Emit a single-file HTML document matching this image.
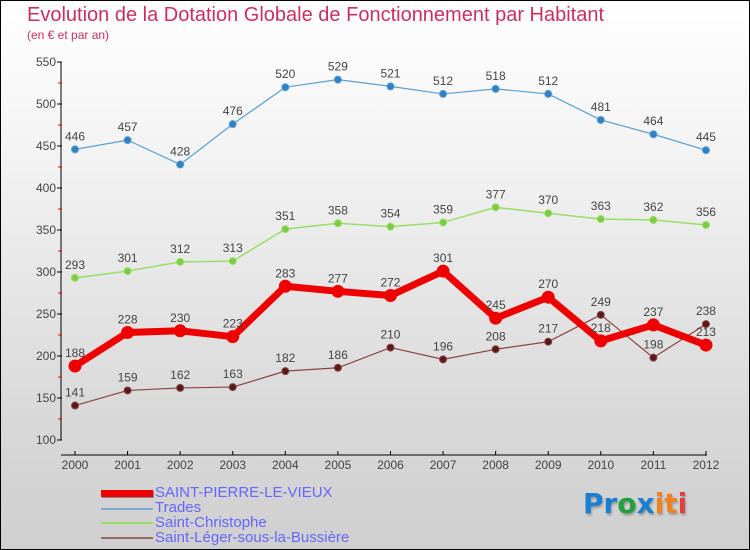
<!DOCTYPE html>
<html><head><meta charset="utf-8"><style>
body{margin:0}
#wrap{position:relative;width:748px;height:548px;border:1px solid #000;background:linear-gradient(#ffffff 0%,#f2f2f2 30%,#d9d9d9 75%,#cfcfcf 100%);font-family:"Liberation Sans",sans-serif;overflow:hidden}
.t{position:absolute;color:#c8315e}
.lg{position:absolute;left:154px;font-size:15px;color:#6666ff;line-height:16px}
.sw{position:absolute;left:100px;width:52px}
</style></head><body>
<div id="wrap">
<div class="t" style="left:26px;top:3px;font-size:20px">Evolution de la Dotation Globale de Fonctionnement par Habitant</div>
<div class="t" style="left:26px;top:27px;font-size:12px">(en € et par an)</div>
<svg id="svg" width="748" height="548" style="position:absolute;left:0;top:0"></svg>
<div class="sw" style="top:489px;height:7px;background:#e00;box-shadow:1px 1px 0 #888"></div>
<div class="lg" style="top:484px">SAINT-PIERRE-LE-VIEUX</div>
<div class="sw" style="top:507px;height:2px;background:#7aaed6"></div>
<div class="lg" style="top:499px">Trades</div>
<div class="sw" style="top:521px;height:2px;background:#99dd66"></div>
<div class="lg" style="top:514px">Saint-Christophe</div>
<div class="sw" style="top:536px;height:2px;background:#996666"></div>
<div class="lg" style="top:529px">Saint-Léger-sous-la-Bussière</div>
<div style="position:absolute;left:582px;top:486px;font-size:28px;font-weight:bold;font-family:'DejaVu Sans',sans-serif;text-shadow:1px 2px 2px #999"><span style="color:#1a7fd0">Pr</span><span style="color:#22a040">o</span><span style="color:#1a7fd0">x</span><span style="color:#f08020">it</span><span style="color:#e04040">i</span></div>
</div>
<script>
const years=[2000,2001,2002,2003,2004,2005,2006,2007,2008,2009,2010,2011,2012];
const spv=[188,228,230,223,283,277,272,301,245,270,218,237,213];
const trades=[446,457,428,476,520,529,521,512,518,512,481,464,445];
const stc=[293,301,312,313,351,358,354,359,377,370,363,362,356];
const stl=[141,159,162,163,182,186,210,196,208,217,249,198,238];
const yTicks=[100,150,200,250,300,350,400,450,500,550];
const svg=document.getElementById('svg');const NS='http://www.w3.org/2000/svg';
const X=i=>74+i*52.58;const Y=v=>439-(v-100)*(378/450);
function mk(t,a,p){const e=document.createElementNS(NS,t);for(const k in a)e.setAttribute(k,a[k]);(p||svg).appendChild(e);return e;}
let ax=mk('line',{x1:60,y1:Y(550),x2:60,y2:Y(100),stroke:'#000'});

let bx=mk('line',{x1:60,y1:454,x2:706,y2:454,stroke:'#000'});

yTicks.forEach((v,i)=>{mk('line',{x1:56,y1:Y(v),x2:61,y2:Y(v),stroke:'#000'});
 if(i<yTicks.length-1)mk('line',{x1:57,y1:Y(v+25),x2:61,y2:Y(v+25),stroke:'#e00'});
 const t=mk('text',{x:55,y:Y(v)+4,'text-anchor':'end','font-size':12,fill:'#444','font-family':'Liberation Sans'});t.textContent=v;
 });
years.forEach((y,i)=>{mk('line',{x1:X(i),y1:450,x2:X(i),y2:454,stroke:'#000'});
 const t=mk('text',{x:X(i),y:468,'text-anchor':'middle','font-size':12,fill:'#444','font-family':'Liberation Sans'});t.textContent=y;
 });
function series(d,col,w,r,dot,name){
 const g=mk('g',{});
 mk('polyline',{points:d.map((v,i)=>X(i)+','+Y(v)).join(' '),fill:'none',stroke:col,'stroke-width':w,'stroke-linejoin':'round'},g);
 d.forEach((v,i)=>{const c=mk('circle',{cx:X(i),cy:Y(v),r:r,fill:dot,stroke:col,'stroke-width':1},g);
  
  const t=mk('text',{x:X(i),y:Y(v)-9,'text-anchor':'middle','font-size':12,fill:'#444','font-family':'Liberation Sans'},g);t.textContent=v;});
}
series(trades,'#5b9fd0',1.2,3.5,'#2f80c4','series-trades');
series(stc,'#99dd66',1.5,3.5,'#7acc44','series-saint-christophe');
series(stl,'#884444',1.2,3.5,'#5a1a1a','series-saint-leger');
series(spv,'#ee0000',7,6,'#ee0000','series-saint-pierre');
</script>
</body></html>
